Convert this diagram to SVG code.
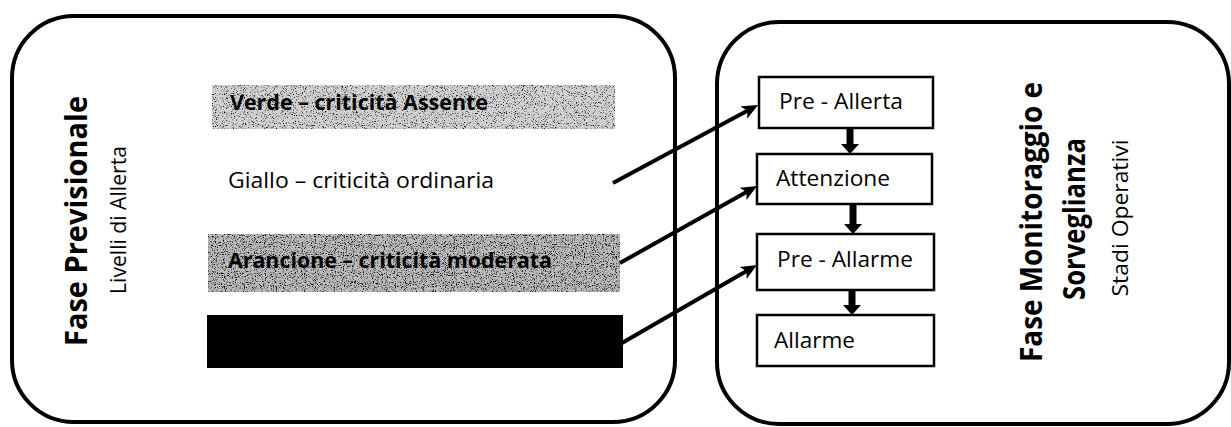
<svg xmlns="http://www.w3.org/2000/svg" width="1231" height="427" viewBox="0 0 1231 427">
  <style>
    .container { fill: #ffffff; stroke: #000000; stroke-width: 4; }
    .stage { fill: #ffffff; stroke: #000000; stroke-width: 2.5; }
    .title { font-family: "Open Sans", "Liberation Sans", sans-serif; font-weight: 700; font-size: 31px; fill: #000000; }
    .subtitle { font-family: "Open Sans", "Liberation Sans", sans-serif; font-weight: 400; font-size: 21px; fill: #000000; }
    .level { font-family: "Open Sans", "Liberation Sans", sans-serif; font-size: 21px; fill: #000000; }
    .bold { font-weight: 700; }
    .stage-label { font-family: "Open Sans", "Liberation Sans", sans-serif; font-size: 21px; fill: #000000; }
    .diag { stroke: #000000; stroke-width: 4; fill: none; marker-end: url(#stealth); }
    .vert { stroke: #000000; stroke-width: 7; fill: none; marker-end: url(#blockhead); }
  </style>
  <defs>
    <marker id="stealth" viewBox="0 0 16 14" markerWidth="16" markerHeight="14" refX="6" refY="7" orient="auto" markerUnits="userSpaceOnUse">
      <path d="M0,0 L16,7 L0,14 L4,7 z" fill="#000000"/>
    </marker>
    <marker id="blockhead" viewBox="0 0 10 18" markerWidth="10" markerHeight="18" refX="1" refY="9" orient="auto" markerUnits="userSpaceOnUse">
      <path d="M0,0 L10,9 L0,18 z" fill="#000000"/>
    </marker>
    <filter id="grainLight" x="0" y="0" width="1" height="1" filterUnits="objectBoundingBox">
      <feTurbulence type="fractalNoise" baseFrequency="0.9" numOctaves="2" seed="7" result="noise"/>
      <feColorMatrix in="noise" type="matrix" values="0 0 0 0 0  0 0 0 0 0  0 0 0 0 0  4 0 0 0 -2.2" result="dots"/>
      <feComposite in="dots" in2="SourceAlpha" operator="in"/>
    </filter>
    <filter id="grainDark" x="0" y="0" width="1" height="1" filterUnits="objectBoundingBox">
      <feTurbulence type="fractalNoise" baseFrequency="0.9" numOctaves="2" seed="11" result="noise"/>
      <feColorMatrix in="noise" type="matrix" values="0 0 0 0 0  0 0 0 0 0  0 0 0 0 0  4 0 0 0 -2.05" result="dots"/>
      <feComposite in="dots" in2="SourceAlpha" operator="in"/>
    </filter>
  </defs>

  <rect x="0" y="0" width="1231" height="427" fill="#ffffff"/>

  <g id="fase-previsionale">
    <rect class="container" x="12" y="16" width="663" height="406" rx="62" ry="62"/>
    <text class="title" transform="translate(87,221) rotate(-90)" text-anchor="middle" textLength="250" lengthAdjust="spacingAndGlyphs">Fase Previsionale</text>
    <text class="subtitle" transform="translate(126,220) rotate(-90)" text-anchor="middle" textLength="148" lengthAdjust="spacingAndGlyphs">Livelli di Allerta</text>
  </g>

  <g id="fase-monitoraggio">
    <rect class="container" x="717" y="22" width="512" height="402" rx="62" ry="62"/>
    <text class="title" transform="translate(1042,222) rotate(-90)" text-anchor="middle" textLength="280" lengthAdjust="spacingAndGlyphs">Fase Monitoraggio e</text>
    <text class="title" transform="translate(1085,219) rotate(-90)" text-anchor="middle" textLength="162" lengthAdjust="spacingAndGlyphs">Sorveglianza</text>
    <text class="subtitle" transform="translate(1128,218) rotate(-90)" text-anchor="middle" textLength="157" lengthAdjust="spacingAndGlyphs">Stadi Operativi</text>
  </g>

  <g id="livello-verde">
    <rect x="212" y="85" width="403" height="44" fill="#d2d2d2"/>
    <rect x="212" y="85" width="403" height="44" fill="#000000" filter="url(#grainLight)"/>
    <text class="level bold" x="230" y="110" textLength="258" lengthAdjust="spacingAndGlyphs">Verde – criticità Assente</text>
  </g>

  <g id="livello-giallo">
    <text class="level" x="228" y="188" textLength="266" lengthAdjust="spacingAndGlyphs">Giallo – criticità ordinaria</text>
  </g>

  <g id="livello-arancione">
    <rect x="208" y="234" width="412" height="58" fill="#bcbcbc"/>
    <rect x="208" y="234" width="412" height="58" fill="#000000" filter="url(#grainDark)"/>
    <text class="level bold" x="228" y="268" textLength="324" lengthAdjust="spacingAndGlyphs">Arancione – criticità moderata</text>
  </g>

  <g id="livello-rosso">
    <rect x="207" y="315" width="416" height="53" fill="#000000"/>
  </g>

  <g id="stadio-pre-allerta">
    <rect class="stage" x="759" y="77" width="174" height="51"/>
    <text class="stage-label" x="779" y="109" textLength="124" lengthAdjust="spacingAndGlyphs">Pre - Allerta</text>
  </g>

  <g id="stadio-attenzione">
    <rect class="stage" x="757" y="154" width="175" height="50"/>
    <text class="stage-label" x="776" y="186" textLength="114" lengthAdjust="spacingAndGlyphs">Attenzione</text>
  </g>

  <g id="stadio-pre-allarme">
    <rect class="stage" x="757" y="234" width="177" height="56"/>
    <text class="stage-label" x="777" y="267" textLength="136" lengthAdjust="spacingAndGlyphs">Pre - Allarme</text>
  </g>

  <g id="stadio-allarme">
    <rect class="stage" x="757" y="315" width="177" height="51"/>
    <text class="stage-label" x="774" y="348" textLength="81" lengthAdjust="spacingAndGlyphs">Allarme</text>
  </g>

  <g id="connectors">
    <line class="diag" x1="613" y1="183" x2="749.2" y2="109.7"/>
    <line class="diag" x1="620" y1="263" x2="748.3" y2="190.9"/>
    <line class="diag" x1="622" y1="343" x2="748.3" y2="270"/>
    <line class="vert" x1="850" y1="128" x2="850" y2="145"/>
    <line class="vert" x1="853" y1="204" x2="853" y2="225"/>
    <line class="vert" x1="852" y1="290" x2="852" y2="306"/>
  </g>
</svg>
